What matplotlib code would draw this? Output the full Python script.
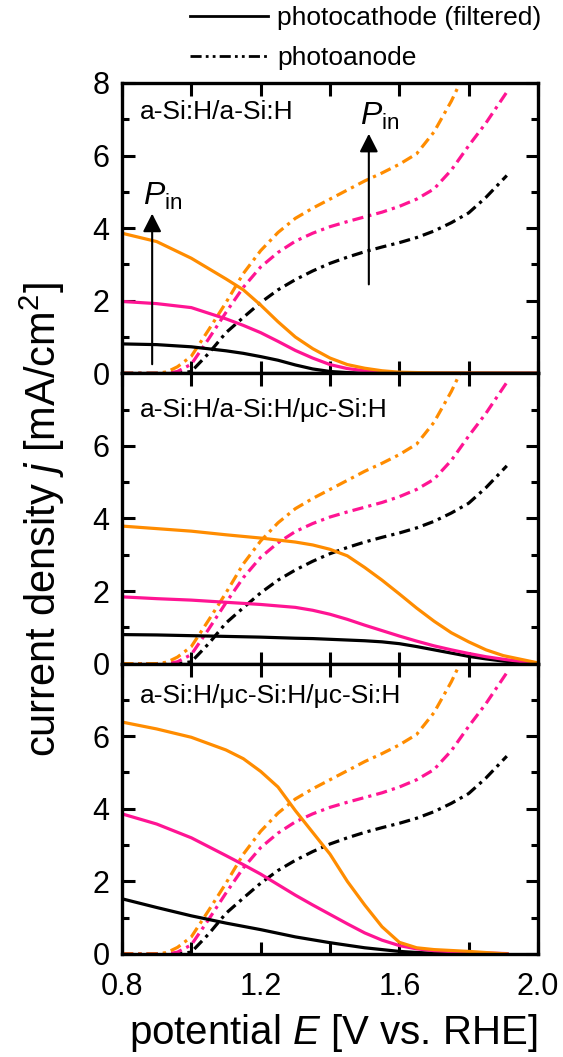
import matplotlib
matplotlib.use('Agg')
import matplotlib.pyplot as plt
from matplotlib.lines import Line2D

plt.rcParams['font.family'] = ['Liberation Sans', 'DejaVu Sans']
plt.rcParams['mathtext.fontset'] = 'custom'
plt.rcParams['mathtext.rm'] = 'Liberation Sans'
plt.rcParams['mathtext.it'] = 'Liberation Sans:italic'

ORANGE = '#FF8C00'
PINK = '#FF1493'

# photoanode (same in every panel)
E_anode = [0.80, 0.90, 0.93, 0.96, 1.00, 1.05, 1.10, 1.15, 1.20, 1.25, 1.30, 1.35, 1.40, 1.45,
           1.50, 1.55, 1.60, 1.65, 1.70, 1.75, 1.80, 1.85, 1.91]
j_anode_orange = [0, 0, 0.04, 0.18, 0.47, 1.2, 1.95, 2.75, 3.38, 3.88, 4.27, 4.55, 4.8, 5.05,
                  5.3, 5.52, 5.76, 6.05, 6.65, 7.5, 8.5, 9.5, 10.5]
j_anode_pink = [0, 0, 0, 0.05, 0.25, 0.95, 1.68, 2.37, 2.93, 3.33, 3.64, 3.86, 4.04, 4.18,
                4.31, 4.44, 4.6, 4.8, 5.08, 5.6, 6.27, 6.9, 7.75]
j_anode_black = [0, 0, 0, 0, 0.05, 0.55, 1.12, 1.54, 1.95, 2.3, 2.58, 2.82, 3.03, 3.2,
                 3.35, 3.48, 3.6, 3.74, 3.92, 4.15, 4.42, 4.85, 5.45]

# photocathode, a-Si:H/a-Si:H
E_top = [0.80, 0.90, 1.00, 1.10, 1.15, 1.20, 1.25, 1.30, 1.35, 1.40, 1.45, 1.50, 1.55, 1.60, 1.70, 2.00]
j_top_orange = [3.86, 3.63, 3.17, 2.6, 2.3, 1.88, 1.42, 1.0, 0.68, 0.42, 0.24, 0.14, 0.07, 0.03, 0.01, 0]
j_top_pink = [1.98, 1.92, 1.81, 1.5, 1.32, 1.12, 0.88, 0.63, 0.42, 0.24, 0.13, 0.07, 0.03, 0.01, 0, 0]
j_top_black = [0.81, 0.79, 0.73, 0.62, 0.55, 0.46, 0.36, 0.23, 0.12, 0.05, 0.02, 0, 0, 0, 0, 0]

# photocathode, a-Si:H/a-Si:H/uc-Si:H
E_mid = [0.80, 0.90, 1.00, 1.10, 1.20, 1.30, 1.35, 1.40, 1.45, 1.50, 1.55, 1.60, 1.65,
         1.70, 1.75, 1.80, 1.85, 1.90, 1.95, 2.00]
j_mid_orange = [3.79, 3.72, 3.65, 3.55, 3.46, 3.35, 3.27, 3.15, 2.97, 2.65, 2.3, 1.92, 1.53,
                1.17, 0.85, 0.6, 0.38, 0.22, 0.12, 0.02]
j_mid_pink = [1.84, 1.79, 1.75, 1.69, 1.63, 1.55, 1.47, 1.36, 1.22, 1.06, 0.91, 0.76, 0.62,
              0.49, 0.38, 0.28, 0.19, 0.12, 0.06, 0.02]
j_mid_black = [0.8, 0.79, 0.77, 0.75, 0.73, 0.7, 0.69, 0.67, 0.65, 0.63, 0.6, 0.55, 0.47,
               0.38, 0.29, 0.2, 0.13, 0.07, 0.03, 0.01]

# photocathode, a-Si:H/uc-Si:H/uc-Si:H
E_bot = [0.80, 0.90, 1.00, 1.10, 1.15, 1.20, 1.25, 1.30, 1.35, 1.40, 1.45, 1.50, 1.55,
         1.60, 1.65, 1.70, 1.80, 1.91]
j_bot_orange = [6.39, 6.2, 5.97, 5.62, 5.38, 5.03, 4.6, 3.95, 3.35, 2.75, 2.0, 1.35, 0.75,
                0.32, 0.17, 0.12, 0.07, 0]
j_bot_pink = [3.86, 3.58, 3.2, 2.71, 2.46, 2.2, 1.91, 1.62, 1.35, 1.09, 0.83, 0.58, 0.38,
              0.23, 0.14, 0.09, 0.04, 0.01]
j_bot_black = [1.52, 1.28, 1.05, 0.85, 0.76, 0.67, 0.57, 0.47, 0.39, 0.31, 0.24, 0.17, 0.12,
               0.07, 0.04, 0.02, 0, 0]

panel_names = ['a-Si:H/a-Si:H', 'a-Si:H/a-Si:H/\u03bcc-Si:H', 'a-Si:H/\u03bcc-Si:H/\u03bcc-Si:H']
panel_label_y = [0.90, 0.875, 0.89]
cathodes = [
    (E_top, j_top_black, j_top_pink, j_top_orange),
    (E_mid, j_mid_black, j_mid_pink, j_mid_orange),
    (E_bot, j_bot_black, j_bot_pink, j_bot_orange),
]

x_ticks = [0.8, 1.0, 1.2, 1.4, 1.6, 1.8, 2.0]
x_labels = ['0.8', '', '1.2', '', '1.6', '', '2.0']

dash = (0, (3.5, 1.6, 1, 1.6))

fig, axes = plt.subplots(3, 1, sharex=True, figsize=(5.63, 10.57), dpi=100)
fig.subplots_adjust(left=0.2167, right=0.9556, bottom=0.0975, top=0.9215, hspace=0)

for i, ax in enumerate(axes):
    E_c, jb, jp, jo = cathodes[i]
    ax.plot(E_anode, j_anode_black, color='black', lw=2.3, linestyle=dash)
    ax.plot(E_anode, j_anode_pink, color=PINK, lw=2.3, linestyle=dash)
    ax.plot(E_anode, j_anode_orange, color=ORANGE, lw=2.3, linestyle=dash)
    ax.plot(E_c, jb, color='black', lw=2.3)
    ax.plot(E_c, jp, color=PINK, lw=2.3)
    ax.plot(E_c, jo, color=ORANGE, lw=2.3)

    ax.set_xlim(0.8, 2.0)
    ax.set_ylim(0, 8)
    if i == 0:
        ax.set_yticks([0, 2, 4, 6, 8])
    else:
        ax.set_yticks([0, 2, 4, 6])
    ax.set_yticks([1, 3, 5, 7], minor=True)
    ax.set_xticks(x_ticks)
    ax.set_xticklabels(x_labels)
    ax.tick_params(which='both', direction='in', top=True, right=True, width=2.2,
                   labelsize=22)
    ax.tick_params(which='major', length=9)
    ax.tick_params(which='minor', length=5)
    ax.tick_params(axis='y', pad=9)
    ax.tick_params(axis='x', pad=13)
    for sp in ax.spines.values():
        sp.set_linewidth(2.4)
    ax.text(0.043, panel_label_y[i], panel_names[i], transform=ax.transAxes,
            fontsize=19, va='center', ha='left')

# P_in arrows in the top panel
top = axes[0]
arrow = dict(arrowstyle='-|>,head_length=0.55,head_width=0.28', color='black',
             lw=1.5, mutation_scale=20, shrinkA=0, shrinkB=0)
top.annotate('', xy=(0.887, 4.4), xytext=(0.887, 0.25), arrowprops=arrow)
top.annotate('', xy=(1.512, 6.6), xytext=(1.512, 2.45), arrowprops=arrow)
top.text(0.86, 4.65, r'$P_{\mathrm{in}}$', fontsize=23, ha='left', va='baseline')
top.text(1.487, 6.85, r'$P_{\mathrm{in}}$', fontsize=23, ha='left', va='baseline')

handles = [Line2D([], [], color='black', lw=2),
           Line2D([], [], color='black', lw=2, linestyle=(0, (4, 1.5, 1, 1.5, 1, 1.5)))]
fig.legend(handles, ['photocathode (filtered)', 'photoanode'], loc='upper left',
           bbox_to_anchor=(190 / 563, 1 - 6 / 1057), frameon=False, fontsize=19,
           handlelength=2.95, handletextpad=0.35, borderpad=0, borderaxespad=0,
           labelspacing=0.6)

fig.text(42 / 563, 1 - 520 / 1057, r'current density $j$ [mA/cm$^2$]', rotation=90,
         fontsize=30, ha='center', va='center')
fig.text(333 / 563, 1 - 1033 / 1057, r'potential $E$ [V vs. RHE]', fontsize=29,
         ha='center', va='center')

fig.savefig('out.png', dpi=100)
